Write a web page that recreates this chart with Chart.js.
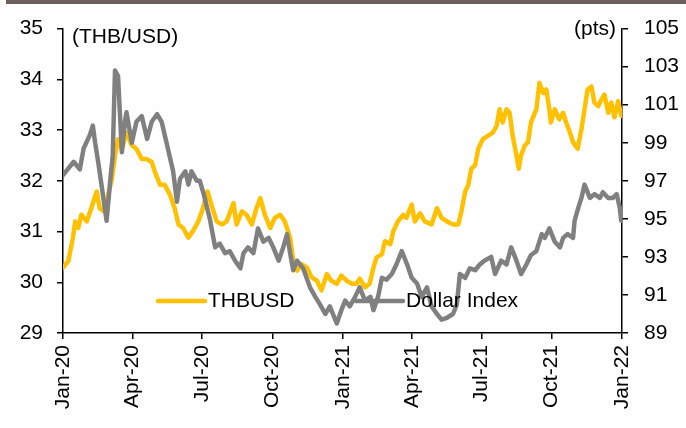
<!DOCTYPE html>
<html>
<head>
<meta charset="utf-8">
<script src="https://cdn.jsdelivr.net/npm/chart.js@4"></script>
<style>
    html, body { margin: 0; padding: 0; background: #fff; }
    .chart_box { position: relative; width: 686px; height: 428px; }
</style>
</head>
<body>
<div class="chart_box"><canvas id="chart"></canvas></div>
<script>
// x positions are days since 1 Jan 2020
const tickDays = [0, 91, 182, 274, 366, 456, 547, 639, 731];
const tickLabels = ['Jan-20', 'Apr-20', 'Jul-20', 'Oct-20', 'Jan-21', 'Apr-21', 'Jul-21', 'Oct-21', 'Jan-22'];

const thbDays = [0, 7, 13, 16, 20, 24, 31, 37, 44, 48, 53, 59, 64, 68, 72, 77, 83, 90, 96, 103, 109, 116, 120, 127, 133, 140, 146, 151, 157, 164, 170, 177, 183, 189, 194, 201, 208, 214, 223, 227, 234, 240, 247, 253, 258, 264, 271, 277, 284, 290, 297, 301, 306, 312, 319, 325, 332, 338, 345, 351, 358, 364, 371, 378, 384, 388, 395, 401, 406, 410, 417, 421, 428, 432, 438, 445, 449, 456, 460, 467, 473, 482, 489, 495, 502, 510, 517, 521, 526, 530, 534, 539, 543, 549, 556, 562, 567, 571, 575, 580, 584, 588, 593, 596, 599, 604, 608, 612, 619, 623, 628, 632, 636, 638, 643, 649, 654, 658, 663, 667, 673, 678, 682, 686, 691, 695, 700, 704, 708, 713, 717, 721, 726, 730];
const thbValues = [30.29, 30.42, 30.88, 31.20, 31.07, 31.33, 31.20, 31.46, 31.79, 31.46, 31.40, 31.72, 32.04, 32.50, 32.82, 32.63, 32.95, 32.70, 32.63, 32.43, 32.43, 32.37, 32.18, 31.92, 31.92, 31.72, 31.46, 31.14, 31.07, 30.88, 31.01, 31.20, 31.46, 31.79, 31.53, 31.20, 31.14, 31.20, 31.56, 31.14, 31.40, 31.33, 31.14, 31.46, 31.66, 31.33, 31.07, 31.27, 31.33, 31.20, 30.88, 30.42, 30.23, 30.36, 30.29, 30.10, 30.03, 29.84, 30.16, 30.03, 29.97, 30.13, 30.03, 29.97, 29.97, 30.07, 29.90, 29.97, 30.29, 30.49, 30.55, 30.81, 30.75, 31.01, 31.20, 31.33, 31.27, 31.53, 31.20, 31.36, 31.20, 31.14, 31.46, 31.27, 31.20, 31.14, 31.14, 31.40, 31.79, 31.92, 32.24, 32.31, 32.63, 32.82, 32.89, 32.95, 33.08, 33.41, 33.15, 33.41, 33.34, 32.89, 32.50, 32.24, 32.50, 32.70, 32.76, 33.15, 33.41, 33.93, 33.73, 33.80, 33.41, 33.15, 33.41, 33.21, 33.34, 33.15, 32.95, 32.76, 32.63, 33.02, 33.41, 33.80, 33.86, 33.54, 33.47, 33.60, 33.70, 33.34, 33.54, 33.25, 33.57, 33.28];

const dxyDays = [0, 14, 22, 27, 35, 39, 42, 46, 51, 57, 62, 65, 68, 72, 75, 77, 81, 83, 90, 96, 103, 110, 116, 123, 129, 136, 144, 149, 153, 160, 164, 168, 175, 179, 184, 192, 199, 205, 212, 218, 225, 232, 236, 242, 249, 255, 262, 269, 275, 282, 288, 293, 297, 301, 306, 314, 323, 330, 336, 343, 349, 358, 364, 369, 375, 382, 388, 395, 402, 406, 412, 417, 423, 430, 436, 443, 450, 456, 463, 469, 476, 482, 489, 495, 502, 510, 515, 519, 526, 532, 539, 545, 551, 560, 565, 573, 580, 586, 593, 599, 606, 612, 619, 626, 630, 636, 643, 650, 654, 660, 667, 669, 674, 678, 682, 689, 695, 702, 706, 713, 719, 724, 728, 730];
const dxyValues = [97.3, 98.0, 97.6, 98.7, 99.4, 99.9, 99.0, 98.0, 96.6, 94.9, 97.1, 98.3, 102.8, 102.5, 100.1, 98.5, 100.1, 100.6, 99.0, 100.1, 100.4, 99.2, 100.1, 100.5, 100.1, 98.9, 97.5, 95.9, 97.1, 97.5, 96.8, 97.5, 97.0, 97.0, 96.3, 95.0, 93.5, 93.7, 93.2, 93.3, 92.8, 92.4, 93.2, 93.5, 93.2, 94.5, 93.8, 94.0, 93.5, 92.8, 93.5, 94.2, 93.2, 92.3, 92.8, 92.4, 91.4, 90.9, 90.5, 90.0, 90.4, 89.5, 90.2, 90.7, 90.4, 90.9, 91.4, 90.7, 90.9, 90.2, 90.9, 91.9, 91.8, 92.1, 92.6, 93.3, 92.6, 91.9, 91.6, 90.9, 91.4, 90.4, 90.0, 89.7, 89.8, 90.0, 90.5, 92.1, 91.9, 92.4, 92.3, 92.6, 92.8, 93.0, 92.1, 92.8, 92.6, 93.5, 92.8, 92.1, 92.6, 93.1, 93.3, 94.2, 94.0, 94.5, 93.8, 93.5, 94.0, 94.2, 94.0, 94.9, 95.6, 96.1, 96.8, 96.1, 96.3, 96.1, 96.4, 96.1, 96.1, 96.3, 95.6, 94.9];

const seriesNames = ['THBUSD', 'Dollar Index'];
const seriesColors = ['#FFC000', '#808080'];

const fontFamily = '"Liberation Sans", Arial, sans-serif';

function toPoints(days, values) {
    return days.map((d, i) => ({ x: d, y: values[i] }));
}

// top rule, unit captions and the in-plot legend
const decorPlugin = {
    id: 'decor',
    beforeDraw(chart) {
        const ctx = chart.ctx;
        ctx.save();
        ctx.fillStyle = '#6d605c';
        ctx.fillRect(6, 0, 680, 4);
        ctx.restore();
    },
    afterDatasetsDraw(chart) {
        const ctx = chart.ctx;
        const area = chart.chartArea;
        ctx.save();
        ctx.fillStyle = '#000';
        ctx.font = '21px ' + fontFamily;
        ctx.textBaseline = 'middle';
        ctx.textAlign = 'left';
        ctx.fillText('(THB/USD)', area.left + 9, area.top + 9);
        ctx.textAlign = 'right';
        ctx.fillText('(pts)', area.right - 6, area.top + 1);

        const legendY = area.bottom - 32;
        const legendX = [area.left + 95, area.left + 293];
        chart.data.datasets.forEach((ds, i) => {
            ctx.strokeStyle = ds.borderColor;
            ctx.lineWidth = 4.5;
            ctx.lineCap = 'round';
            ctx.beginPath();
            ctx.moveTo(legendX[i], legendY);
            ctx.lineTo(legendX[i] + 47, legendY);
            ctx.stroke();
            ctx.fillStyle = '#000';
            ctx.textAlign = 'left';
            ctx.fillText(ds.label, legendX[i] + 50, legendY);
        });
        ctx.restore();
    }
};

const chart = new Chart(document.getElementById('chart'), {
    type: 'line',
    data: {
        datasets: [{
            label: seriesNames[0],
            data: toPoints(thbDays, thbValues),
            borderColor: seriesColors[0],
            yAxisID: 'yLeft',
            order: 1
        }, {
            label: seriesNames[1],
            data: toPoints(dxyDays, dxyValues),
            borderColor: seriesColors[1],
            yAxisID: 'yRight',
            order: 0
        }]
    },
    options: {
        responsive: true,
        maintainAspectRatio: false,
        devicePixelRatio: 1,
        animation: false,
        layout: { padding: { top: 26, left: 0, right: 0, bottom: 0 } },
        elements: {
            line: { borderWidth: 4.5, tension: 0, borderJoinStyle: 'round', borderCapStyle: 'round' },
            point: { radius: 0 }
        },
        plugins: {
            legend: { display: false },
            tooltip: { enabled: false }
        },
        scales: {
            x: {
                type: 'linear',
                min: 0,
                max: 731,
                afterBuildTicks: (scale) => {
                    scale.ticks = tickDays.map(v => ({ value: v }));
                },
                afterFit: (scale) => { scale.height = 95; },
                grid: { display: true, drawOnChartArea: false, drawTicks: true, tickLength: 6, color: '#000', lineWidth: 1.5 },
                border: { display: true, color: '#000', width: 1.5 },
                ticks: {
                    autoSkip: false,
                    minRotation: 90,
                    maxRotation: 90,
                    padding: 6,
                    color: '#000',
                    font: { family: fontFamily, size: 21 },
                    callback: (value, index) => tickLabels[index]
                }
            },
            yLeft: {
                type: 'linear',
                position: 'left',
                min: 29,
                max: 35,
                afterFit: (scale) => { scale.width = 63; },
                grid: { display: true, drawOnChartArea: false, drawTicks: true, tickLength: 6, color: '#000', lineWidth: 1.5 },
                border: { display: true, color: '#000', width: 1.5 },
                ticks: {
                    stepSize: 1,
                    padding: 14,
                    color: '#000',
                    font: { family: fontFamily, size: 21 }
                }
            },
            yRight: {
                type: 'linear',
                position: 'right',
                min: 89,
                max: 105,
                afterFit: (scale) => { scale.width = 64; },
                grid: { display: true, drawOnChartArea: false, drawTicks: true, tickLength: 6, color: '#000', lineWidth: 1.5 },
                border: { display: true, color: '#000', width: 1.5 },
                ticks: {
                    stepSize: 2,
                    padding: 16,
                    color: '#000',
                    font: { family: fontFamily, size: 21 }
                }
            }
        }
    },
    plugins: [decorPlugin]
});
</script>
</body>
</html>
